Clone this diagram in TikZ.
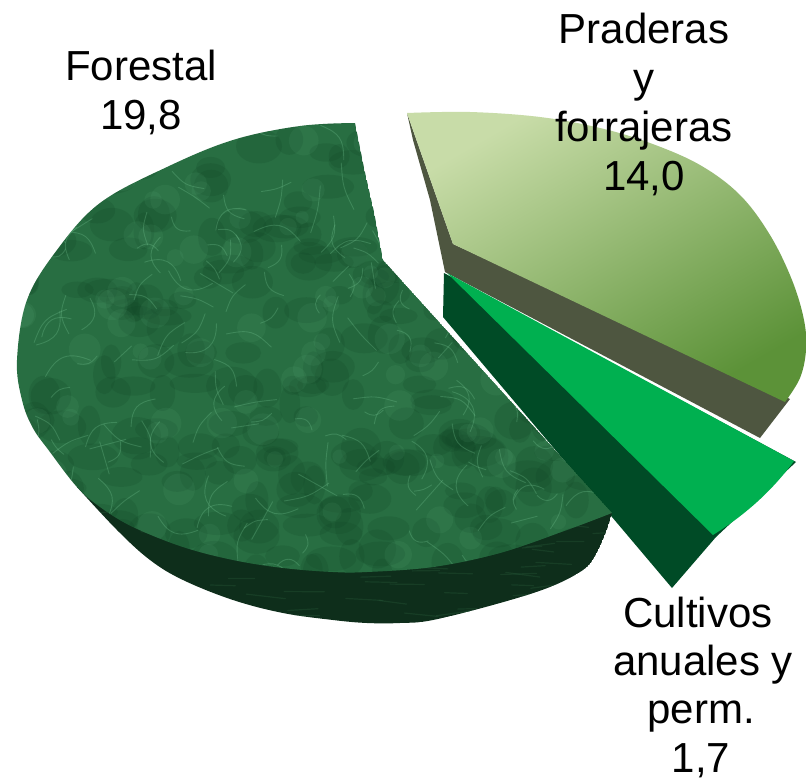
\documentclass[tikz,border=0pt]{standalone}
\usepackage{fontspec}
\setmainfont{Liberation Sans}
\definecolor{fortop}{RGB}{40,110,66}
\definecolor{fordark}{RGB}{14,64,34}
\definecolor{forvein}{RGB}{120,200,150}
\definecolor{forside}{RGB}{14,46,27}
\definecolor{forsidelt}{RGB}{40,90,58}
\definecolor{pradlight}{RGB}{200,220,168}
\definecolor{praddark}{RGB}{92,146,56}
\definecolor{pradside}{RGB}{78,86,64}
\definecolor{cultop}{RGB}{0,176,80}
\definecolor{culside}{RGB}{0,75,38}
\def\ForTop{(355,123) -- (364,168) -- (374,212) -- (383,260) -- (612,513) -- plot[smooth,tension=0.6] coordinates {(612,513) (567,530) (500,553) (433,567) (367,572) (333,572) (283,568) (233,560) (183,547) (133,527) (100,507) (77,487) (50,452) (33,428) (22,400) (17,360) (27,300) (57,250) (100,203) (167,167) (233,140) (300,126) (355,123)} -- cycle}
\def\ForSide{plot[smooth,tension=0.6] coordinates {(77,487) (117,530) (150,560) (183,580) (233,600) (283,613) (333,620) (367,623) (400,623) (433,620) (500,603) (550,587) (583,570) (595,556) (606,532) (612,513)} -- cycle}
\begin{document}
\begin{tikzpicture}[x=1pt,y=-1pt,
  lbl/.style={font=\fontsize{42}{49}\selectfont, inner sep=0pt, anchor=base, text=black},
  vein/.style={draw=forvein, line width=0.9pt, opacity=0.28, line cap=round},
  blob/.style={fill=fordark, opacity=0.16},
  lblob/.style={fill=forvein, opacity=0.08},
  streak/.style={draw=forsidelt, line width=1.2pt, opacity=0.35, line cap=round}]
\useasboundingbox (0,0) rectangle (807,782);
\fill[white] (0,0) rectangle (807,782);

% Praderas y forrajeras: side faces
\fill[pradside] (407,113) -- (413,140) -- (430,200) -- (445,272) -- (760,438) -- (790,399) -- (453,244) -- cycle;
% Praderas top
\shade[top color=pradlight, bottom color=praddark, shading angle=30]
  (407,113) -- (453,244) -- (785,402) -- plot[smooth,tension=0.6] coordinates {(785,402) (800,378) (806,350) (804,320) (792,280) (770,235) (740,195) (700,165) (650,143) (600,128) (540,117) (470,112) (407,113)} -- cycle;

% Cultivos anuales y perm.: side face
\fill[culside] (444,273) -- (796,462) -- (716,537) -- (672,588) -- (443,317) -- cycle;
% Cultivos top
\fill[cultop] (447,273) -- (794,461) .. controls (772,491) and (745,515) .. (713,535) -- cycle;

% Forestal: side
\begin{scope}
  \clip \ForSide;
  \fill[forside] \ForSide;
  \pgfmathsetseed{11}
  \foreach \i in {1,...,110}{
    \pgfmathsetmacro\xa{345+290*rand}
    \pgfmathsetmacro\ya{560+65*rand}
    \pgfmathsetmacro\ang{8*rand}
    \pgfmathsetmacro\len{15+30*rnd}
    \draw[streak] (\xa,\ya) -- ++(\ang:\len);
  }
\end{scope}
% Forestal: top
\begin{scope}
  \clip \ForTop;
  \fill[fortop] \ForTop;
  \pgfmathsetseed{5}
  \foreach \i in {1,...,320}{
    \pgfmathsetmacro\xa{315+300*rand}
    \pgfmathsetmacro\ya{345+230*rand}
    \pgfmathsetmacro\rx{10+16*rnd}
    \pgfmathsetmacro\ry{8+12*rnd}
    \fill[blob] (\xa,\ya) ellipse [x radius=\rx, y radius=\ry];
  }
  \foreach \i in {1,...,120}{
    \pgfmathsetmacro\xa{315+300*rand}
    \pgfmathsetmacro\ya{345+230*rand}
    \pgfmathsetmacro\rx{6+10*rnd}
    \fill[lblob] (\xa,\ya) circle [radius=\rx];
  }
  \foreach \i in {1,...,220}{
    \pgfmathsetmacro\xa{315+300*rand}
    \pgfmathsetmacro\ya{345+230*rand}
    \pgfmathsetmacro\ang{360*rnd}
    \pgfmathsetmacro\bend{50*rand}
    \pgfmathsetmacro\len{18+30*rnd}
    \draw[vein] (\xa,\ya) .. controls +(\ang+\bend:\len/2) and +(\ang+180-\bend:\len/2) .. ++(\ang:\len);
  }
\end{scope}

% Labels
\node[lbl] (f1) at (141,80) {Forestal};
\node[lbl] (f2) at (141,129) {19,8};
\node[lbl] (p1) at (644,43) {Praderas};
\node[lbl] (p2) at (644,92) {y};
\node[lbl] (p3) at (644,141) {forrajeras};
\node[lbl] (p4) at (644,190) {14,0};
\node[lbl] (c1) at (698,627) {Cultivos};
\node[lbl] (c2) at (703,675) {anuales y};
\node[lbl] (c3) at (701,723) {perm.};
\node[lbl] (c4) at (701,772) {1,7};
\end{tikzpicture}
\end{document}
